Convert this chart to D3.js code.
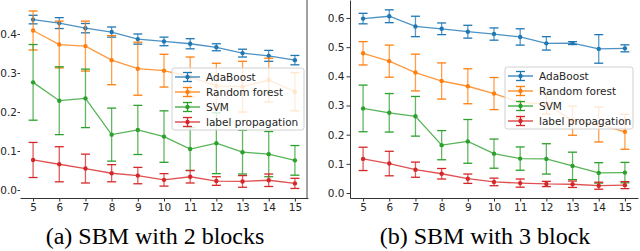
<!DOCTYPE html>
<html><head><meta charset="utf-8">
<script src="https://cdn.jsdelivr.net/npm/d3@7"></script>
<style>body{margin:0;background:#fff;} svg{display:block;}</style>
</head><body>
<svg id="c" width="640" height="251"></svg>
<script>
const xValues = [5,6,7,8,9,10,11,12,13,14,15];
const xTicks = [5,6,7,8,9,10,11,12,13,14,15];
const seriesNames = ["AdaBoost","Random forest","SVM","label propagation"];
const colors = ["#1f77b4","#ff7f0e","#2ca02c","#d62728"];

// Panel (a): SBM with 2 blocks
const aAda = [0.437,0.428,0.415,0.405,0.387,0.381,0.375,0.366,0.351,0.344,0.333];
const aAdaErr = [0.011,0.014,0.012,0.013,0.013,0.011,0.013,0.009,0.010,0.014,0.012];
const aRf = [0.409,0.373,0.369,0.333,0.311,0.306,0.290,0.267,0.265,0.282,0.252];
const aRfErr = [0.050,0.060,0.064,0.063,0.068,0.042,0.051,0.058,0.065,0.056,0.049];
const aSvm = [0.276,0.229,0.235,0.142,0.154,0.137,0.105,0.120,0.097,0.092,0.076];
const aSvmErr = [0.097,0.087,0.075,0.068,0.063,0.066,0.055,0.078,0.056,0.058,0.038];
const aLp = [0.077,0.066,0.055,0.043,0.037,0.026,0.034,0.023,0.022,0.025,0.017];
const aLpErr = [0.045,0.045,0.037,0.022,0.021,0.016,0.016,0.011,0.015,0.016,0.013];
const aYTicks = [0.0,0.1,0.2,0.3,0.4];

// Panel (b): SBM with 3 block
const bAda = [0.598,0.606,0.571,0.563,0.553,0.545,0.535,0.513,0.514,0.494,0.496];
const bAdaErr = [0.018,0.022,0.035,0.020,0.022,0.021,0.028,0.023,0.005,0.049,0.012];
const bRf = [0.479,0.452,0.413,0.384,0.366,0.341,0.311,0.305,0.248,0.235,0.210];
const bRfErr = [0.040,0.055,0.063,0.062,0.060,0.055,0.055,0.034,0.050,0.060,0.060];
const bSvm = [0.290,0.275,0.263,0.164,0.177,0.135,0.118,0.117,0.093,0.069,0.070];
const bSvmErr = [0.080,0.066,0.068,0.050,0.075,0.050,0.040,0.052,0.047,0.035,0.035];
const bLp = [0.117,0.101,0.080,0.066,0.049,0.038,0.034,0.031,0.030,0.025,0.027];
const bLpErr = [0.040,0.042,0.026,0.018,0.016,0.013,0.014,0.009,0.011,0.012,0.012];
const bYTicks = [0.0,0.1,0.2,0.3,0.4,0.5,0.6];

const captions = ["(a) SBM with 2 blocks","(b) SBM with 3 block"];

const svg = d3.select("#c");
const FONT = "DejaVu Sans, sans-serif";
const FS = 10.5;

function panel(cfg){
  const g = svg.append("g");
  const x = d3.scaleLinear().domain([4.5,15.5]).range([cfg.x0, cfg.x1]);
  const y = d3.scaleLinear().domain(cfg.yDomain).range([198, 0]);
  const vals = [cfg.ada, cfg.rf, cfg.svm, cfg.lp];
  const errs = [cfg.adaErr, cfg.rfErr, cfg.svmErr, cfg.lpErr];

  // x axis
  const xa = g.append("g").attr("transform","translate(0,198)")
    .call(d3.axisBottom(x).tickValues(xTicks).tickFormat(d3.format("d")).tickSize(3.5).tickPadding(2.5).tickSizeOuter(0));
  xa.select(".domain").attr("stroke","#333").attr("stroke-width",1);
  xa.selectAll(".tick line").attr("stroke","#333");
  xa.selectAll("text").attr("font-family",FONT).attr("font-size",FS).attr("fill","#262626");

  // y axis
  const ya = g.append("g").attr("transform",`translate(${cfg.x0},0)`)
    .call(d3.axisLeft(y).tickValues(cfg.yTicks).tickFormat(d3.format(".1f")).tickSize(cfg.yTick).tickPadding(cfg.yPad).tickSizeOuter(0));
  ya.select(".domain").attr("stroke", cfg.leftSpine ? "#333" : "none").attr("stroke-width",1);
  ya.selectAll(".tick line").attr("stroke","#333");
  ya.selectAll("text").attr("font-family",FONT).attr("font-size",FS).attr("fill","#262626");

  if (cfg.rightLine !== undefined) {
    g.append("line").attr("x1",cfg.rightLine).attr("x2",cfg.rightLine).attr("y1",0).attr("y2",199)
      .attr("stroke","#444").attr("stroke-width",1);
  }

  const line = d3.line().x((d,i)=>x(xValues[i])).y(d=>y(d));
  const cap = 4.5;
  vals.forEach((v,si)=>{
    const c = colors[si];
    const sg = g.append("g");
    sg.append("path").attr("d", line(v)).attr("fill","none").attr("stroke",c).attr("stroke-width",1.3).attr("stroke-opacity",0.8);
    v.forEach((d,i)=>{
      const xx = x(xValues[i]), e = errs[si][i];
      sg.append("line").attr("x1",xx).attr("x2",xx).attr("y1",y(d-e)).attr("y2",y(d+e))
        .attr("stroke",c).attr("stroke-width",1.3).attr("stroke-opacity",0.75);
      [d-e,d+e].forEach(t=>{
        sg.append("line").attr("x1",xx-cap).attr("x2",xx+cap).attr("y1",y(t)).attr("y2",y(t))
          .attr("stroke",c).attr("stroke-width",1.3);
      });
      sg.append("circle").attr("cx",xx).attr("cy",y(d)).attr("r",2.2).attr("fill",c);
    });
  });

  // legend
  const L = cfg.legX, T = cfg.legY, W = cfg.legW, H = 62;
  const lg = g.append("g");
  lg.append("rect").attr("x",L).attr("y",T).attr("width",W).attr("height",H).attr("rx",2.5)
    .attr("fill","#fff").attr("fill-opacity",0.8).attr("stroke","#d0d0d0").attr("stroke-width",1);
  seriesNames.forEach((name,i)=>{
    const cy = T + 9 + i*15;
    const c = colors[i];
    const hx0 = L+3, hx1 = L+28, hm = (hx0+hx1)/2;
    lg.append("line").attr("x1",hx0).attr("x2",hx1).attr("y1",cy).attr("y2",cy).attr("stroke",c).attr("stroke-width",1.5).attr("stroke-opacity",0.8);
    lg.append("line").attr("x1",hm).attr("x2",hm).attr("y1",cy-4.5).attr("y2",cy+4.5).attr("stroke",c).attr("stroke-width",1.3);
    lg.append("line").attr("x1",hm-4.5).attr("x2",hm+4.5).attr("y1",cy-4.5).attr("y2",cy-4.5).attr("stroke",c).attr("stroke-width",1.3);
    lg.append("line").attr("x1",hm-4.5).attr("x2",hm+4.5).attr("y1",cy+4.5).attr("y2",cy+4.5).attr("stroke",c).attr("stroke-width",1.3);
    lg.append("circle").attr("cx",hm).attr("cy",cy).attr("r",2.2).attr("fill",c);
    lg.append("text").attr("x",L+34).attr("y",cy).attr("dy","0.35em").attr("font-family",FONT)
      .attr("font-size",FS).attr("fill","#262626").text(name);
  });

  svg.append("text").attr("x",cfg.capX).attr("y",243.5).attr("text-anchor","middle")
    .attr("font-family","Liberation Serif, Times New Roman, serif").attr("font-size",24).attr("fill","#000")
    .text(cfg.caption);
}

panel({x0:20, x1:308, yDomain:[-0.0205,0.4872], yTicks:aYTicks, yTick:2.5, yPad:0.5, leftSpine:false, rightLine:307,
  ada:aAda, adaErr:aAdaErr, rf:aRf, rfErr:aRfErr, svm:aSvm, svmErr:aSvmErr, lp:aLp, lpErr:aLpErr,
  legX:172, legY:68, legW:132, capX:155, caption:captions[0]});
panel({x0:350, x1:638, yDomain:[-0.0171,0.6617], yTicks:bYTicks, yTick:3.5, yPad:2, leftSpine:true,
  ada:bAda, adaErr:bAdaErr, rf:bRf, rfErr:bRfErr, svm:bSvm, svmErr:bSvmErr, lp:bLp, lpErr:bLpErr,
  legX:505, legY:67, legW:128, capX:485, caption:captions[1]});
</script>
</body></html>
